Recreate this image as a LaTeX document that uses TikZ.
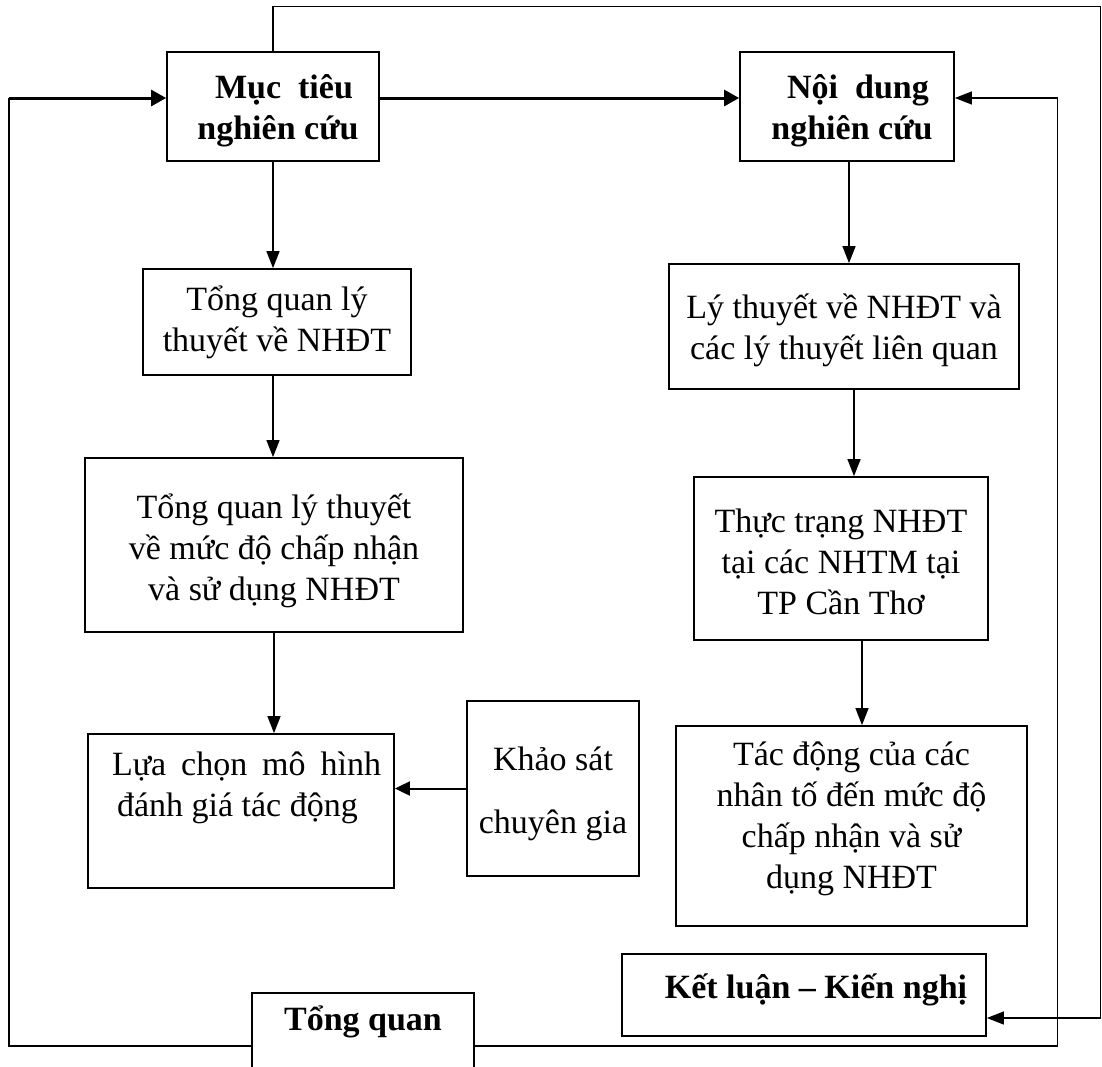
\documentclass[tikz,border=0pt]{standalone}
\usepackage{fontspec}
\setmainfont{Liberation Serif}
\usetikzlibrary{arrows.meta,calc}
% box text: height, width, first-baseline offset, content
\newcommand\bxt[4]{\parbox[c][#1][t]{#2}{\centering\rule{0pt}{#3}#4}}
\begin{document}
\begin{tikzpicture}[x=1pt,y=-1pt,
  box/.style={draw, line width=1.8pt, inner sep=0pt, font=\fontsize{34}{41}\selectfont},
  boldbox/.style={box, font=\fontsize{34}{41}\selectfont\bfseries},
  conn/.style={line width=1.4pt},
  arr/.style={line width=1.4pt, -{Triangle[length=17pt,width=13pt]}},
  medarr/.style={line width=2pt, -{Triangle[length=15pt,width=14pt]}},
  thickarr/.style={line width=3pt, -{Triangle[length=15pt,width=16pt]}}]
\useasboundingbox (0,0) rectangle (1102,1066);
\fill[white] (0,0) rectangle (1102,1066);
\clip (0,0) rectangle (1102,1066);

% boxes
\node[boldbox] (muctieu) at (273,106.5)
  {\bxt{109pt}{212pt}{46pt}{\hspace*{22pt}Mục\ \ tiêu\\\hspace*{10pt}nghiên cứu}};
\node[boldbox] (noidung) at (847,106.5)
  {\bxt{109pt}{214pt}{46pt}{\hspace*{22pt}Nội\ \ dung\\\hspace*{10pt}nghiên cứu}};
\node[box] (tq1) at (277,322)
  {\bxt{106pt}{268pt}{41pt}{Tổng quan lý\\thuyết về NHĐT}};
\node[box] (tq2) at (274,545)
  {\bxt{174pt}{378pt}{60pt}{Tổng quan lý thuyết\\về mức độ chấp nhận\\và sử dụng NHĐT}};
\node[box] (luachon) at (241,811)
  {\parbox[c][154pt][t]{306pt}{\rule{0pt}{41pt}\hspace*{24pt}\makebox[269pt][s]{Lựa chọn mô hình}\\\hspace*{29pt}đánh giá tác động}};
\node[box] (khaosat) at (553,788.5)
  {\bxt{175pt}{172pt}{69pt}{Khảo sát\\[22pt]chuyên gia}};
\node[box] (lythuyet) at (844,326.5)
  {\bxt{125pt}{350pt}{54pt}{Lý thuyết về NHĐT và\\các lý thuyết liên quan}};
\node[box] (thuctrang) at (841,558.5)
  {\bxt{163pt}{294pt}{55pt}{Thực trạng NHĐT\\tại các NHTM tại\\TP Cần Thơ}};
\node[box] (tacdong) at (851.5,826)
  {\bxt{200pt}{351pt}{39pt}{Tác động của các\\nhân tố đến mức độ\\chấp nhận và sử\\dụng NHĐT}};
\node[boldbox] (ketluan) at (804,995)
  {\bxt{82pt}{364pt}{44pt}{\hspace*{24pt}Kết luận – Kiến nghị}};
\node[boldbox, anchor=north] (tongquan) at (363,992)
  {\bxt{140pt}{222pt}{38pt}{Tổng quan}};

% corner coordinates
\coordinate (topR) at (1100.5,6.5);
\coordinate (botL) at (9,1046);
\coordinate (botR) at (1057.5,1046);
\coordinate (cornerTL) at (9,98);

% connectors
\draw[arr] (muctieu.north) |- (topR) |- ([yshift=-23pt]ketluan.east);
\draw[conn] (tongquan.west |- botL) -- (botL) -- (cornerTL);
\draw[thickarr] (cornerTL) -- ([yshift=8.5pt]muctieu.west);
\draw[arr] (tongquan.east |- botR) -- (botR) |- ([yshift=8.5pt]noidung.east);
\draw[thickarr] ([yshift=8.5pt]muctieu.east) -- ([yshift=8.5pt]noidung.west);

\draw[arr] (muctieu.south) -- (muctieu.south |- tq1.north);
\draw[arr] (muctieu.south |- tq1.south) -- (muctieu.south |- tq2.north);
\draw[arr] (tq2.south) -- (tq2.south |- luachon.north);
\draw[medarr] (khaosat.west) -- (khaosat.west -| luachon.east);

\draw[arr] ([xshift=2pt]noidung.south) -- ([xshift=2pt]noidung.south |- lythuyet.north);
\draw[arr] ([xshift=10pt]lythuyet.south) -- ([xshift=10pt]lythuyet.south |- thuctrang.north);
\draw[arr] ([xshift=21pt]thuctrang.south) -- ([xshift=21pt]thuctrang.south |- tacdong.north);
\end{tikzpicture}
\end{document}
